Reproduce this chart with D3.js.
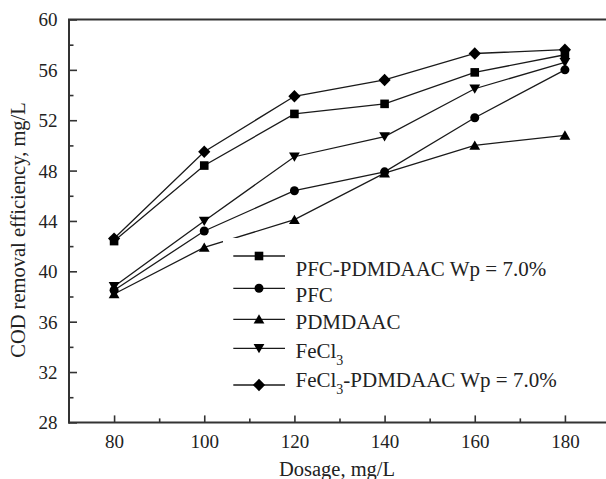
<!DOCTYPE html>
<html>
<head>
<meta charset="utf-8">
<script src="https://cdn.jsdelivr.net/npm/d3@7"></script>
<style>
  html, body { margin: 0; padding: 0; background: #fff; }
  svg { display: block; font-family: "Liberation Serif", "Times New Roman", serif; }
</style>
</head>
<body>
<svg id="chart" width="606" height="479"></svg>
<script>
// ---- data ----
const dosage = [80, 100, 120, 140, 160, 180];
const pfcPdmdaac = [42.4, 48.4, 52.5, 53.3, 55.8, 57.2];
const pfc = [38.5, 43.2, 46.4, 47.9, 52.2, 56.0];
const pdmdaac = [38.2, 41.9, 44.1, 47.8, 50.0, 50.8];
const fecl3 = [38.8, 44.0, 49.1, 50.7, 54.5, 56.6];
const fecl3Pdmdaac = [42.6, 49.5, 53.9, 55.2, 57.3, 57.6];
const seriesNames = ["PFC-PDMDAAC Wp = 7.0%", "PFC", "PDMDAAC", "FeCl3", "FeCl3-PDMDAAC Wp = 7.0%"];
const xTicks = [80, 100, 120, 140, 160, 180];
const xMinorTicks = [90, 110, 130, 150, 170];
const yTicks = [28, 32, 36, 40, 44, 48, 52, 56, 60];
const yMinorTicks = [30, 34, 38, 42, 46, 50, 54, 58];
const xTitle = "Dosage, mg/L";
const yTitle = "COD removal efficiency, mg/L";

// ---- setup ----
const svg = d3.select("#chart");
const x = d3.scaleLinear().domain([70, 190]).range([69, 610]);
const y = d3.scaleLinear().domain([28, 60]).range([422.4, 19.5]);

const markerPaths = {
  square: "M-4.3,-4.3h8.6v8.6h-8.6Z",
  circle: d3.symbol(d3.symbolCircle, Math.PI * 4.5 * 4.5)(),
  triUp: "M0,-5L5.4,4.3L-5.4,4.3Z",
  triDown: "M0,5L5.4,-4.3L-5.4,-4.3Z",
  diamond: "M0,-6.2L6.1,0L0,6.2L-6.1,0Z"
};

const series = [
  { name: seriesNames[0], values: pfcPdmdaac, marker: "square" },
  { name: seriesNames[1], values: pfc, marker: "circle" },
  { name: seriesNames[2], values: pdmdaac, marker: "triUp" },
  { name: seriesNames[3], values: fecl3, marker: "triDown" },
  { name: seriesNames[4], values: fecl3Pdmdaac, marker: "diamond" }
];

const lineGen = d3.line().x(d => x(d[0])).y(d => y(d[1]));

// ---- lines & markers ----
const gData = svg.append("g");
series.forEach(s => {
  const pts = dosage.map((d, i) => [d, s.values[i]]);
  gData.append("path")
    .attr("d", lineGen(pts))
    .attr("fill", "none")
    .attr("stroke", "#1a1a1a")
    .attr("stroke-width", 1.3);
});
series.forEach(s => {
  const pts = dosage.map((d, i) => [d, s.values[i]]);
  gData.selectAll(null).data(pts).enter().append("path")
    .attr("d", markerPaths[s.marker])
    .attr("transform", d => `translate(${x(d[0])},${y(d[1])})`)
    .attr("fill", "#000");
});

// ---- axes ----
const axisColor = "#333";
const gx = svg.append("g").attr("transform", `translate(0,${y(28)})`)
  .call(d3.axisBottom(x).tickValues(xTicks).tickSize(-7).tickFormat(d3.format("d")));
gx.selectAll("text").attr("y", 25.6).attr("dy", 0)
  .attr("font-size", 19).attr("font-family", "Liberation Serif").attr("fill", "#222");
const gxm = svg.append("g").attr("transform", `translate(0,${y(28)})`)
  .call(d3.axisBottom(x).tickValues(xMinorTicks).tickSize(-4).tickFormat(""));

const gy = svg.append("g").attr("transform", `translate(${x(70)},0)`)
  .call(d3.axisLeft(y).tickValues(yTicks).tickSize(-8).tickFormat(d3.format("d")));
gy.selectAll("text").attr("x", -11.5).attr("dy", "0.34em")
  .attr("font-size", 19).attr("font-family", "Liberation Serif").attr("fill", "#222");
const gym = svg.append("g").attr("transform", `translate(${x(70)},0)`)
  .call(d3.axisLeft(y).tickValues(yMinorTicks).tickSize(-4.5).tickFormat(""));

[gx, gxm, gy, gym].forEach(g => {
  g.select(".domain").remove();
  g.selectAll("line").attr("stroke", axisColor).attr("stroke-width", 1.6);
});

// frame
const frame = svg.append("g").attr("stroke", axisColor).attr("stroke-width", 2).attr("fill", "none");
frame.append("line").attr("x1", x(70)).attr("x2", x(70)).attr("y1", y(60)).attr("y2", y(28) + 1);
frame.append("line").attr("x1", x(70) - 1).attr("x2", x(190)).attr("y1", y(28)).attr("y2", y(28));
frame.append("line").attr("x1", x(70) - 1).attr("x2", x(190)).attr("y1", y(60)).attr("y2", y(60));
frame.append("line").attr("x1", x(190)).attr("x2", x(190)).attr("y1", y(60)).attr("y2", y(28));

// titles
svg.append("text").attr("x", 337).attr("y", 476).attr("text-anchor", "middle")
  .attr("font-size", 20.5).attr("fill", "#222").text(xTitle);
svg.append("text").attr("transform", "translate(25,230) rotate(-90)").attr("text-anchor", "middle")
  .attr("font-size", 20.5).attr("fill", "#222").text(yTitle);

// ---- legend ----
const lg = svg.append("g");
lg.append("rect").attr("x", 223).attr("y", 238).attr("width", 360).attr("height", 165).attr("fill", "#fff");
const lineYs = [256, 288.3, 319.3, 348.3, 385];
const textYs = [275.5, 301.7, 329.3, 358.3, 386.7];
series.forEach((s, i) => {
  lg.append("line").attr("x1", 233.3).attr("x2", 285).attr("y1", lineYs[i]).attr("y2", lineYs[i])
    .attr("stroke", "#1a1a1a").attr("stroke-width", 1.3);
  lg.append("path").attr("d", markerPaths[s.marker])
    .attr("transform", `translate(259,${lineYs[i]})`).attr("fill", "#000");
  const t = lg.append("text").attr("x", 295.5).attr("y", textYs[i])
    .attr("font-size", 21).attr("fill", "#222");
  const m = s.name.match(/^(FeCl)3(.*)$/);
  if (m) {
    t.append("tspan").text(m[1]);
    t.append("tspan").attr("font-size", 14).attr("dy", 7).text("3");
    if (m[2]) t.append("tspan").attr("dy", -7).text(m[2]);
  } else {
    t.text(s.name);
  }
});
</script>
</body>
</html>
